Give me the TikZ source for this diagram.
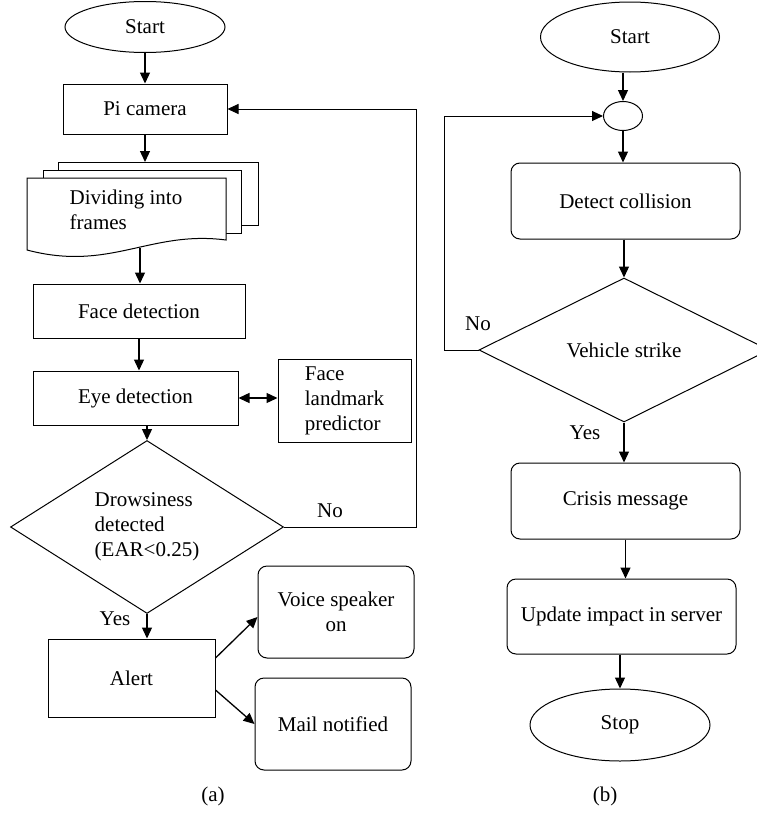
\documentclass[tikz,border=0pt]{standalone}
\usepackage{fontspec}
\setmainfont{Liberation Serif}
\usetikzlibrary{shapes.geometric,arrows.meta,calc}
\begin{document}
\begin{tikzpicture}[x=1pt,y=-1pt,
  every node/.style={font=\fontsize{21}{25}\selectfont, inner sep=0pt},
  ln/.style={line width=1pt},
  arr/.style={line width=1.3pt,-{Triangle[length=11pt,width=10pt]}},
  darr/.style={line width=1.3pt,{Triangle[length=11pt,width=10pt]}-{Triangle[length=11pt,width=10pt]}},
  box/.style={draw,ln,rectangle,align=center},
  rbox/.style={box,rounded corners=9pt},
  term/.style={draw,ln,ellipse},
  dec/.style={draw,ln,diamond}
]
\useasboundingbox (0,0) rectangle (757,814);

% ---------- (a) ----------
\node[term,minimum width=160pt,minimum height=51pt] (sa) at (145,27) {Start};
\node[box,minimum width=164pt,minimum height=50pt] (pi) at (145,109) {Pi camera};

% document stack
\draw[ln,fill=white] (58,162) rectangle (258,225);
\draw[ln,fill=white] (43,170) rectangle (241,233);
\draw[ln,fill=white] (27,178) -- (226,178) -- (226,240)
  .. controls (150,230) and (110,272) .. (27,250) -- cycle;
\node[align=left] (doc) at (126,210) {Dividing into\\frames};
\coordinate (doctop) at (145,162);
\coordinate (docb) at (140,248);

\node[box,minimum width=212pt,minimum height=54pt] (fd) at (139,311) {Face detection};
\node[box,minimum width=205pt,minimum height=54pt] (ed) at (135.5,398) {Eye detection};
\node[box,minimum width=133pt,minimum height=83pt,align=left] (fl) at (344.5,400.5) {Face\\landmark\\predictor};
\node[dec,minimum width=273pt,minimum height=151pt,align=left] (dd) at (147,527) {Drowsiness\\detected\\(EAR<0.25)};
\node[box,minimum width=167pt,minimum height=78pt] (al) at (131.5,678) {Alert};
\node[rbox,minimum width=156pt,minimum height=92pt] (vo) at (336,612) {Voice speaker\\on};
\node[rbox,minimum width=156pt,minimum height=92pt] (mn) at (333,724) {Mail notified};
\node (no1) at (330,511) {No};
\node (yes1) at (115,619) {Yes};
\node (capa) at (213,796) {(a)};
\coordinate (ra) at (416,527);

\draw[arr] (sa) -- (pi);
\draw[arr] (pi.south) -- (doctop);
\draw[arr] (docb) -- (docb |- fd.north);
\draw[arr] (fd.south) -- (fd.south |- ed.north);
\draw[darr] (ed.east) -- (ed.east -| fl.west);
\draw[arr] (ed.south -| dd.north) -- (dd.north);
\draw[arr,line width=1pt] (dd.east) -- (ra) |- (pi.east);
\draw[arr] (dd.south) -- (dd.south |- al.north);
\draw[arr] ([yshift=20pt]al.east) -- ([yshift=-5pt]vo.west);
\draw[arr] ([yshift=-12pt]al.east) -- (mn.west);

% ---------- (b) ----------
\node[term,minimum width=179pt,minimum height=70pt] (sb) at (630,37) {Start};
\node[draw,ln,ellipse,minimum width=39pt,minimum height=29pt] (jn) at (623,116) {};
\node[rbox,minimum width=229pt,minimum height=76pt] (dc) at (625.5,201) {Detect collision};
\node[dec,minimum width=290pt,minimum height=144pt] (vh) at (624,350) {Vehicle strike};
\node[rbox,minimum width=229pt,minimum height=76pt] (cm) at (625.5,501) {Crisis message};
\node[rbox,minimum width=229pt,minimum height=75pt] (ui) at (621.5,616.5) {Update impact in server};
\node[term,minimum width=180pt,minimum height=72pt] (sp) at (620,725) {Stop};
\node (no2) at (478,324) {No};
\node (yes2) at (585,433) {Yes};
\node (capb) at (605,796) {(b)};
\coordinate (lb) at (444,350);

\draw[arr] (jn.north |- sb.south) -- (jn.north);
\draw[arr] (jn.south) -- (jn.south |- dc.north);
\draw[arr] (dc.south -| vh.north) -- (vh.north);
\draw[arr,line width=1pt] (vh.west) -- (lb) |- (jn.west);
\draw[arr] (vh.south) -- (vh.south |- cm.north);
\draw[arr] (cm.south) -- (cm.south |- ui.north);
\draw[arr] (ui.south -| sp.north) -- (sp.north);
\end{tikzpicture}
\end{document}
